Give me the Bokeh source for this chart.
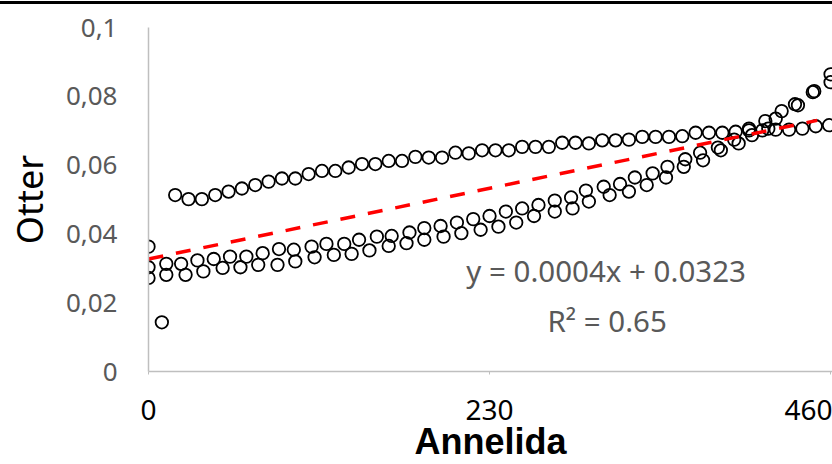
from bokeh.plotting import figure
from bokeh.models import ColumnDataSource, FixedTicker, Label, Range1d, Div
from bokeh.layouts import column
from bokeh.embed import file_html
from bokeh.resources import INLINE

# ---- data ----
upper_x = [0, 9, 18, 27, 36, 45, 54, 63, 72, 81, 90, 99, 108, 117, 126, 135, 144,
           153, 162, 171, 180, 189, 198, 207, 216, 225, 234, 243, 252, 261, 270,
           279, 288, 297, 306, 315, 324, 333, 342, 351, 360, 369, 378, 387, 396,
           405, 414, 423, 432, 441, 450, 459]
upper_y = [0.0363, 0.0143, 0.0513, 0.0501, 0.0501, 0.0513, 0.0523, 0.0532, 0.0542,
           0.0552, 0.0561, 0.0561, 0.0574, 0.0583, 0.0583, 0.0593, 0.0603, 0.0603,
           0.0612, 0.0612, 0.0624, 0.0622, 0.0622, 0.0636, 0.0634, 0.0643, 0.0643,
           0.0643, 0.0653, 0.0653, 0.0653, 0.0665, 0.0665, 0.0663, 0.0672, 0.0672,
           0.0674, 0.0682, 0.0682, 0.0682, 0.0684, 0.0694, 0.0694, 0.0694, 0.0697,
           0.0701, 0.0701, 0.0703, 0.0703, 0.0706, 0.0713, 0.0716]

mid_x = [0, 12, 22, 33, 44, 55, 66, 77, 88, 98, 110, 120, 132, 142, 154, 164, 176,
         186, 197, 208, 219, 230, 241, 252, 263, 274, 285, 295, 307, 318, 328, 340,
         350, 362, 372, 384, 395, 405, 416, 427, 436, 449, 460]
mid_y = [0.0303, 0.0313, 0.0313, 0.0323, 0.0327, 0.0334, 0.0334, 0.0344, 0.0356,
         0.0354, 0.0363, 0.0371, 0.0371, 0.0383, 0.0392, 0.0394, 0.0404, 0.0417,
         0.0423, 0.0433, 0.0443, 0.0452, 0.0465, 0.0474, 0.0484, 0.0497, 0.0506,
         0.0526, 0.0537, 0.0545, 0.0564, 0.0576, 0.0595, 0.0617, 0.0636, 0.0651,
         0.0674, 0.0706, 0.0728, 0.0757, 0.0777, 0.0815, 0.0864]

low_x = [0, 12, 25, 37, 50, 62, 74, 87, 99, 112, 125, 137, 149, 162, 174, 186, 199,
         211, 224, 236, 248, 260, 274, 286, 297, 311, 324, 336, 349, 361, 374, 386,
         398, 407, 418, 423, 438, 448, 460]
low_y = [0.0272, 0.0281, 0.0281, 0.0291, 0.0301, 0.0303, 0.0310, 0.0310, 0.0320,
         0.0332, 0.0339, 0.0342, 0.0352, 0.0365, 0.0373, 0.0383, 0.0392, 0.0402,
         0.0412, 0.0421, 0.0433, 0.0452, 0.0465, 0.0474, 0.0494, 0.0513, 0.0523,
         0.0542, 0.0564, 0.0595, 0.0614, 0.0643, 0.0663, 0.0687, 0.0706, 0.0735,
         0.0774, 0.0812, 0.0841]

trend_x = [0, 451]
trend_y = [0.0327, 0.0730]

x_tick_values = [0, 230, 460]
x_tick_labels = ["0", "230", "460"]
y_tick_values = [0, 0.02, 0.04, 0.06, 0.08, 0.1]
y_tick_labels = ["0", "0,02", "0,04", "0,06", "0,08", "0,1"]

equation_text = "y = 0.0004x + 0.0323"
r2_text = "R² = 0.65"
x_title = "Annelida"
y_title = "Otter"

# ---- figure ----
p = figure(width=832, height=460, output_backend="svg", toolbar_location=None,
           x_range=Range1d(0, 461.3), y_range=Range1d(0, 0.1),
           min_border_left=148, min_border_right=0, min_border_top=23,
           min_border_bottom=92)
p.outline_line_color = None
p.grid.grid_line_color = None
p.background_fill_color = "white"
p.border_fill_color = "white"

all_x = upper_x + mid_x + low_x
all_y = upper_y + mid_y + low_y
src = ColumnDataSource(dict(x=all_x, y=all_y))
p.scatter("x", "y", source=src, size=12.5, line_color="black", line_width=1.8,
          fill_alpha=0)

p.line(trend_x, trend_y, line_color="#FF0000", line_width=3.5, line_dash="15 13")

# x axis
xa = p.xaxis[0]
xa.ticker = FixedTicker(ticks=x_tick_values)
xa.major_label_overrides = {v: t for v, t in zip(x_tick_values, x_tick_labels)}
xa.major_label_text_font = "Noto Sans"
xa.major_label_text_font_size = "28px"
xa.major_label_text_color = "black"
xa.major_label_standoff = 25
xa.axis_line_color = "#BFBFBF"
xa.axis_line_width = 1.5
xa.major_tick_line_color = "#BFBFBF"
xa.major_tick_out = 3
xa.major_tick_in = 0
xa.minor_tick_line_color = None
xa.axis_label = x_title
xa.axis_label_text_font = "Liberation Sans"
xa.axis_label_text_font_style = "bold"
xa.axis_label_text_font_size = "36px"
xa.axis_label_text_color = "black"
xa.axis_label_standoff = -2

# y axis
ya = p.yaxis[0]
ya.ticker = FixedTicker(ticks=y_tick_values)
ya.major_label_overrides = {v: t for v, t in zip(y_tick_values, y_tick_labels)}
ya.major_label_text_font = "Noto Sans"
ya.major_label_text_font_size = "26px"
ya.major_label_text_color = "#595959"
ya.major_label_standoff = 31
ya.axis_line_color = "#BFBFBF"
ya.axis_line_width = 1.5
ya.major_tick_line_color = None
ya.major_tick_out = 0
ya.major_tick_in = 0
ya.minor_tick_line_color = None
ya.axis_label = y_title
ya.axis_label_text_font = "Noto Sans"
ya.axis_label_text_font_style = "normal"
ya.axis_label_text_font_size = "36px"
ya.axis_label_text_color = "black"
ya.axis_label_standoff = 9

p.add_layout(Label(x=308.6, y=0.0294, text=equation_text, text_align="center",
                   text_baseline="alphabetic", text_font="Noto Sans",
                   text_font_size="29.5px", text_color="#595959"))
p.add_layout(Label(x=309.3, y=0.0147, text=r2_text, text_align="center",
                   text_baseline="alphabetic", text_font="Noto Sans",
                   text_font_size="29.5px", text_color="#595959"))

top_rule = Div(width=832, height=3, margin=(1, 0, 0, 0),
               styles={"background-color": "black"})
layout = column(top_rule, p, spacing=0)

open("out.html", "w").write(file_html(layout, INLINE))
